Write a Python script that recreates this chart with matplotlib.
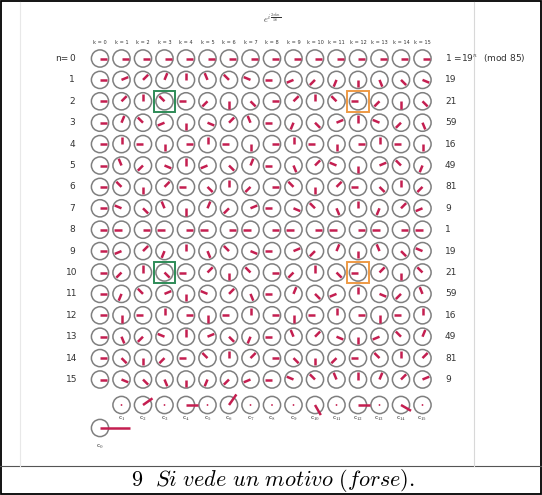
import numpy as np
import matplotlib.pyplot as plt
from matplotlib.patches import Circle, Rectangle

plt.rcParams['mathtext.fontset'] = 'cm'

# phase of e^(2 pi i n k / 16) in sixteenths of a turn, one string per row n (hex digits, k = 0..15)
phase_rows = [
    "0000000000000000",
    "0123456789abcdef",
    "02468ace02468ace",
    "0369cf258be147ad",
    "048c048c048c048c",
    "05af49e38d27c16b",
    "06c28e4a06c28e4a",
    "07e5c3a18f6d4b29",
    "0808080808080808",
    "092b4d6f81a3c5e7",
    "0a4e82c60a4e82c6",
    "0b61c72d83e94fa5",
    "0c840c840c840c84",
    "0da741eb852fc963",
    "0eca86420eca8642",
    "0fedcba987654321",
]
n_labels = [str(n) for n in range(16)]
k_labels = ["k = %d" % k for k in range(16)]
mod_values = [1, 19, 21, 59, 16, 49, 81, 9, 1, 19, 21, 59, 16, 49, 81, 9]

# bottom row c_k: length (in circle radii) and angle (deg)
c_len = [3.5, 0, 1.35, 0, 1.35, 0, 1.5, 0, 0, 0, 1.35, 0, 1.35, 0, 1.35, 0]
c_ang = [0, 0, 35, 0, 0, 0, 55, 0, 0, 0, -60, 0, 0, 0, -30, 0]

# highlighted cells (n, k, colour)
boxes = [(2, 3, '#2e8b57'), (10, 3, '#2e8b57'), (2, 12, '#ee9a45'), (10, 12, '#ee9a45')]

RED = '#c41e50'
GREY = '#7f7f7f'
TXT = '#333333'

x0, dx = 100.0, 21.5
y0, dy = 58.5, 21.4
r = 8.6

fig = plt.figure(figsize=(5.42, 4.95), dpi=100)
ax = fig.add_axes([0, 0, 1, 1])
ax.set_xlim(0, 542)
ax.set_ylim(495, 0)
ax.axis('off')


def dial(cx, cy, length, ang_deg, dot=False):
    ax.add_patch(Circle((cx, cy), r, fill=False, ec=GREY, lw=1.1))
    if length > 0:
        a = np.deg2rad(ang_deg)
        ax.plot([cx, cx + length * np.cos(a)], [cy, cy - length * np.sin(a)],
                color=RED, lw=1.8, solid_capstyle='butt')
    elif dot:
        ax.add_patch(Circle((cx, cy), 0.9, color=RED, lw=0))


# grid of dials
for n, row in enumerate(phase_rows):
    cy = y0 + n * dy
    for k, ch in enumerate(row):
        p = int(ch, 16)
        dial(x0 + k * dx, cy, 0.85 * r, p * 360.0 / 16)
    ax.text(72, cy, n_labels[n], ha='center', va='center', fontsize=6.5,
            color=TXT, family='DejaVu Sans')
    if n == 0:
        ax.text(445, cy, "1 =19$^{n}$  (mod 85)", ha='left', va='center',
                fontsize=6.5, color=TXT, family='DejaVu Sans')
    else:
        ax.text(445, cy, str(mod_values[n]), ha='left', va='center',
                fontsize=6.5, color=TXT, family='DejaVu Sans')
ax.text(68, y0, "n=", ha='right', va='center', fontsize=6.5, color=TXT,
        family='DejaVu Sans')

for k in range(16):
    ax.text(x0 + k * dx, 43, k_labels[k], ha='center', va='center',
            fontsize=3.6, color=TXT, family='DejaVu Sans')

for n, k, col in boxes:
    s = 21.5
    ax.add_patch(Rectangle((x0 + k * dx - s / 2, y0 + n * dy - s / 2), s, s,
                           fill=False, ec=col, lw=1.4))

ax.text(272, 18, r'$e^{i\,\frac{2\pi k n}{16}}$', ha='center', va='center',
        fontsize=6, color=TXT)

# bottom row of coefficients
yc = 405
for k in range(1, 16):
    cx = x0 + k * dx
    dial(cx, yc, c_len[k] * r, c_ang[k], dot=True)
    ax.text(cx, 419, r'$\mathsf{c_{%d}}$' % k, ha='center', va='center',
            fontsize=5, color=TXT)
dial(x0, 428, c_len[0] * r, c_ang[0], dot=True)
ax.text(x0, 447, r'$\mathsf{c_{0}}$', ha='center', va='center', fontsize=5,
        color=TXT)

# frames
ax.add_patch(Rectangle((0.8, 0.8), 540.4, 493.4, fill=False, ec='black', lw=1.3))
ax.plot([0, 542], [466, 466], color='#555555', lw=0.8)
ax.plot([474, 474], [2, 466], color='#d8d8d8', lw=0.8)
ax.plot([20, 20], [2, 466], color='#e8e8e8', lw=0.8)

ax.text(273, 481, r'$\mathrm{9}\ \ \mathit{Si\ vede\ un\ motivo\ (forse).}$',
        ha='center', va='center', fontsize=16, color='black')

fig.savefig('out.png', dpi=100)
